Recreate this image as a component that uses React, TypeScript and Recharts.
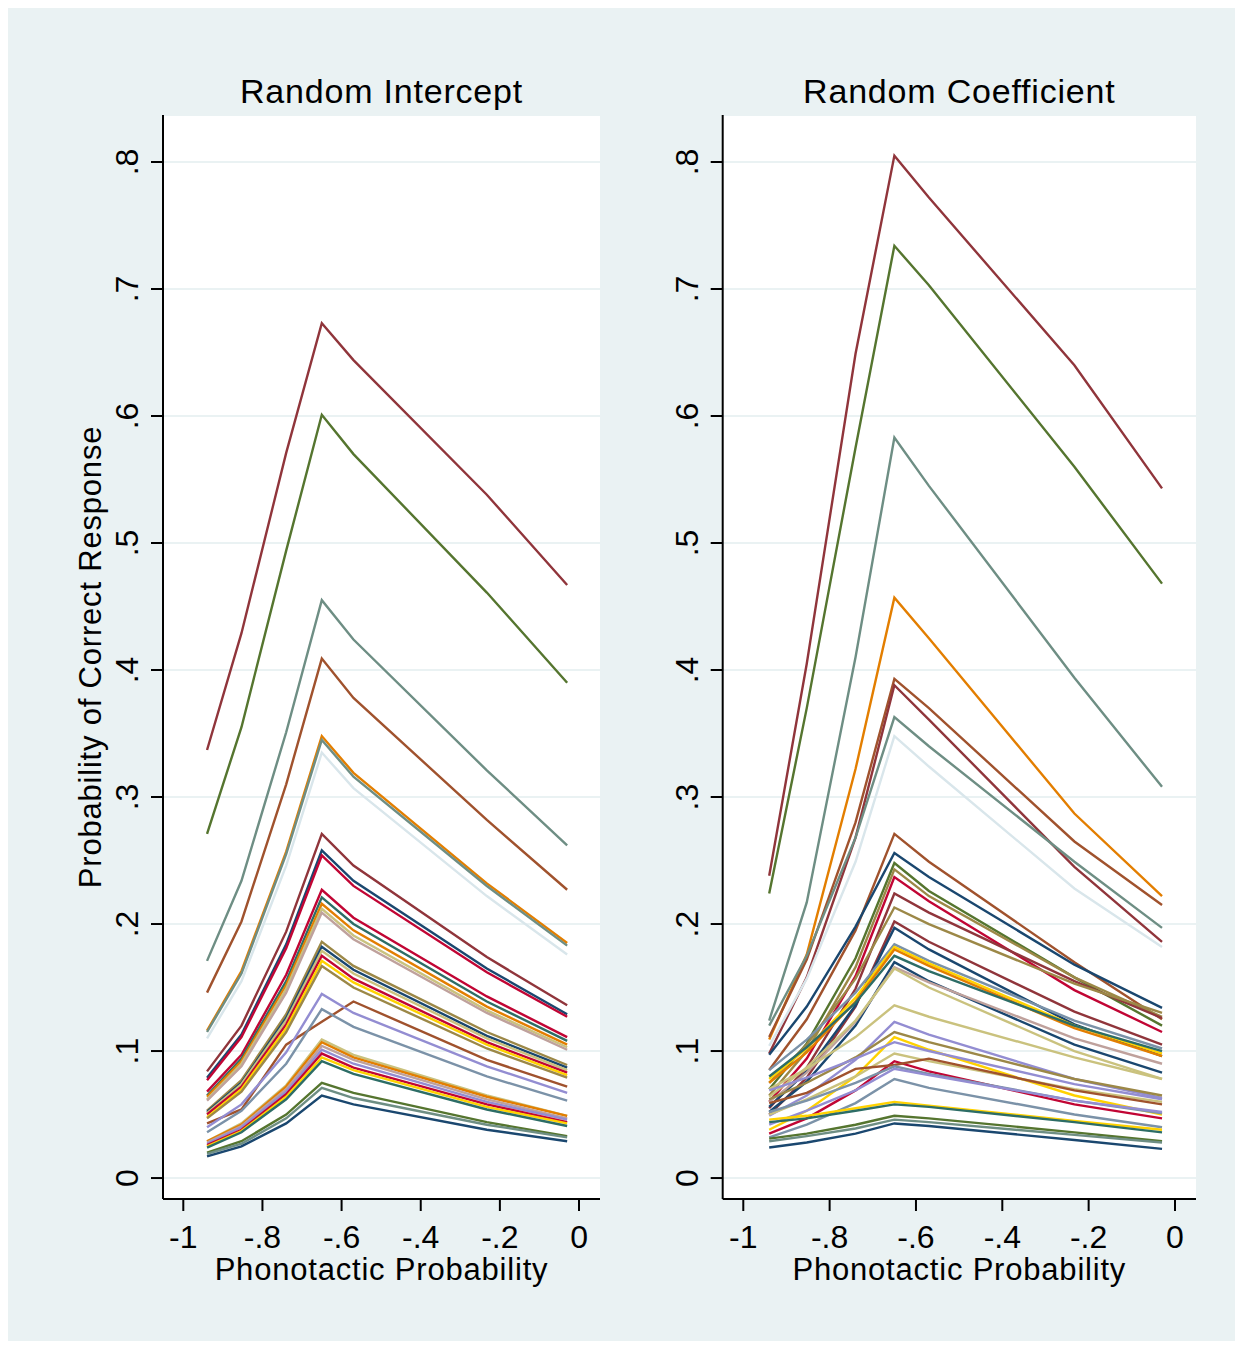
import React from "react";
import { LineChart, Line, XAxis, YAxis, CartesianGrid } from "recharts";

// phonotactic probability values where predictions were taken
const xPoints = [-0.94, -0.853, -0.74, -0.65, -0.57, -0.233, -0.03];
const xTicks = [-1, -0.8, -0.6, -0.4, -0.2, 0];
const yTicks = [0, 0.1, 0.2, 0.3, 0.4, 0.5, 0.6, 0.7, 0.8];

// predicted probability per subject, random intercept model
const interceptLines = [
  [0.337, 0.429, 0.571, 0.673, 0.644, 0.538, 0.467],
  [0.271, 0.355, 0.494, 0.601, 0.57, 0.461, 0.39],
  [0.171, 0.234, 0.351, 0.455, 0.424, 0.321, 0.262],
  [0.146, 0.202, 0.31, 0.409, 0.378, 0.282, 0.227],
  [0.116, 0.163, 0.257, 0.348, 0.319, 0.232, 0.185],
  [0.115, 0.161, 0.255, 0.345, 0.316, 0.23, 0.183],
  [0.11, 0.155, 0.246, 0.335, 0.307, 0.222, 0.176],
  [0.084, 0.12, 0.194, 0.271, 0.246, 0.174, 0.136],
  [0.079, 0.113, 0.184, 0.258, 0.234, 0.165, 0.129],
  [0.077, 0.111, 0.181, 0.254, 0.23, 0.162, 0.127],
  [0.068, 0.097, 0.16, 0.227, 0.205, 0.143, 0.111],
  [0.065, 0.094, 0.155, 0.221, 0.2, 0.139, 0.108],
  [0.064, 0.092, 0.152, 0.216, 0.195, 0.135, 0.105],
  [0.062, 0.09, 0.149, 0.212, 0.191, 0.132, 0.103],
  [0.061, 0.088, 0.146, 0.209, 0.188, 0.13, 0.101],
  [0.053, 0.077, 0.129, 0.186, 0.167, 0.115, 0.089],
  [0.052, 0.075, 0.126, 0.182, 0.164, 0.112, 0.087],
  [0.051, 0.074, 0.124, 0.179, 0.161, 0.11, 0.085],
  [0.05, 0.072, 0.121, 0.175, 0.157, 0.107, 0.083],
  [0.048, 0.07, 0.118, 0.171, 0.154, 0.105, 0.081],
  [0.047, 0.068, 0.115, 0.167, 0.15, 0.102, 0.079],
  [0.043, 0.054, 0.105, 0.123, 0.139, 0.093, 0.072],
  [0.04, 0.058, 0.099, 0.145, 0.13, 0.088, 0.067],
  [0.036, 0.053, 0.09, 0.133, 0.119, 0.08, 0.061],
  [0.029, 0.043, 0.073, 0.109, 0.097, 0.065, 0.049],
  [0.029, 0.042, 0.072, 0.107, 0.095, 0.064, 0.049],
  [0.028, 0.041, 0.07, 0.104, 0.093, 0.062, 0.047],
  [0.027, 0.04, 0.068, 0.101, 0.09, 0.06, 0.046],
  [0.026, 0.038, 0.066, 0.098, 0.087, 0.058, 0.044],
  [0.025, 0.037, 0.064, 0.095, 0.085, 0.056, 0.043],
  [0.024, 0.036, 0.062, 0.092, 0.082, 0.054, 0.041],
  [0.02, 0.029, 0.05, 0.075, 0.067, 0.044, 0.033],
  [0.019, 0.027, 0.047, 0.071, 0.063, 0.042, 0.032],
  [0.017, 0.025, 0.043, 0.065, 0.058, 0.038, 0.029],
];

// predicted probability per subject, random coefficient model
const coefficientLines = [
  [0.238, 0.405, 0.649, 0.805, 0.772, 0.64, 0.543],
  [0.224, 0.37, 0.575, 0.734, 0.703, 0.56, 0.468],
  [0.124, 0.217, 0.41, 0.583, 0.545, 0.394, 0.308],
  [0.109, 0.176, 0.322, 0.457, 0.425, 0.287, 0.222],
  [0.111, 0.172, 0.28, 0.393, 0.37, 0.265, 0.215],
  [0.098, 0.158, 0.268, 0.388, 0.361, 0.245, 0.186],
  [0.12, 0.175, 0.268, 0.363, 0.34, 0.249, 0.197],
  [0.104, 0.157, 0.249, 0.348, 0.324, 0.228, 0.182],
  [0.085, 0.125, 0.195, 0.271, 0.249, 0.17, 0.125],
  [0.097, 0.135, 0.198, 0.256, 0.237, 0.168, 0.134],
  [0.07, 0.106, 0.173, 0.248, 0.226, 0.158, 0.12],
  [0.065, 0.1, 0.166, 0.243, 0.222, 0.158, 0.127],
  [0.06, 0.094, 0.159, 0.237, 0.218, 0.148, 0.115],
  [0.055, 0.087, 0.149, 0.224, 0.209, 0.155, 0.126],
  [0.075, 0.105, 0.157, 0.213, 0.2, 0.153, 0.13],
  [0.05, 0.079, 0.135, 0.202, 0.186, 0.131, 0.105],
  [0.056, 0.084, 0.136, 0.197, 0.18, 0.121, 0.096],
  [0.085, 0.109, 0.146, 0.184, 0.171, 0.124, 0.102],
  [0.078, 0.102, 0.142, 0.182, 0.169, 0.12, 0.098],
  [0.075, 0.099, 0.139, 0.18, 0.167, 0.118, 0.096],
  [0.08, 0.103, 0.138, 0.175, 0.163, 0.12, 0.1],
  [0.052, 0.076, 0.12, 0.17, 0.155, 0.105, 0.083],
  [0.06, 0.083, 0.123, 0.166, 0.154, 0.11, 0.09],
  [0.064, 0.087, 0.124, 0.165, 0.15, 0.1, 0.078],
  [0.07, 0.086, 0.111, 0.136, 0.127, 0.095, 0.078],
  [0.049, 0.065, 0.093, 0.123, 0.113, 0.078, 0.063],
  [0.062, 0.075, 0.095, 0.115, 0.107, 0.078, 0.065],
  [0.038, 0.053, 0.08, 0.111, 0.101, 0.065, 0.05],
  [0.069, 0.079, 0.094, 0.107, 0.1, 0.074, 0.062],
  [0.05, 0.062, 0.08, 0.098, 0.092, 0.07, 0.06],
  [0.035, 0.047, 0.069, 0.092, 0.084, 0.058, 0.047],
  [0.059, 0.067, 0.086, 0.089, 0.094, 0.069, 0.058],
  [0.052, 0.061, 0.075, 0.088, 0.082, 0.061, 0.051],
  [0.042, 0.053, 0.069, 0.086, 0.081, 0.061, 0.052],
  [0.032, 0.042, 0.059, 0.078, 0.071, 0.05, 0.04],
  [0.046, 0.049, 0.055, 0.06, 0.057, 0.045, 0.038],
  [0.044, 0.047, 0.053, 0.058, 0.056, 0.044, 0.036],
  [0.031, 0.035, 0.042, 0.049, 0.047, 0.036, 0.029],
  [0.029, 0.033, 0.039, 0.046, 0.044, 0.034, 0.028],
  [0.024, 0.028, 0.035, 0.043, 0.041, 0.03, 0.023],
];

// stata s2color palette
const PALETTE: Record<string, string> = {
  navy: "#1a476f",
  maroon: "#90353b",
  forest: "#55752f",
  dkorange: "#e37e00",
  teal: "#6e8e84",
  cranberry: "#c10534",
  lavender: "#938dd2",
  khaki: "#cac27e",
  sienna: "#a0522d",
  emidblue: "#7b92a8",
  emerald: "#2d6d66",
  brown: "#9c8847",
  erose: "#bfa19c",
  gold: "#ffd200",
  bluishgray: "#d9e6eb",
};

const interceptColors = [
  "maroon", "forest", "teal", "sienna", "dkorange", "teal", "bluishgray",
  "maroon", "navy", "cranberry", "cranberry", "emerald", "dkorange", "khaki",
  "erose", "brown", "navy", "khaki", "cranberry", "gold", "brown", "sienna",
  "lavender", "emidblue", "khaki", "dkorange", "erose", "lavender", "cranberry",
  "gold", "emerald", "forest", "teal", "navy",
];

const coefficientColors = [
  "maroon", "forest", "teal", "dkorange", "sienna", "maroon", "teal", "bluishgray",
  "sienna", "navy", "forest", "brown", "cranberry", "maroon", "brown", "maroon",
  "navy", "emidblue", "gold", "dkorange", "emerald", "navy", "erose", "khaki",
  "khaki", "lavender", "brown", "gold", "lavender", "khaki", "cranberry", "sienna",
  "emidblue", "lavender", "emidblue", "gold", "emerald", "forest", "teal", "navy",
];

const FONT = "'Liberation Sans', Arial, Helvetica, sans-serif";
const BG = "#eaf2f3";
const Y_DOMAIN: [number, number] = [-0.0165, 0.837];

function fmt(v: number) {
  if (v === 0) return "0";
  return String(v).replace("0.", ".");
}

function XTick(props: any) {
  const { x, y, payload } = props;
  return (
    <text x={x} y={y + 37} textAnchor="middle" fontSize={32} fill="#000" fontFamily={FONT}>
      {fmt(payload.value)}
    </text>
  );
}

function YTick(props: any) {
  const { x, y, payload } = props;
  const bx = x - 13;
  return (
    <text
      x={bx}
      y={y}
      transform={`rotate(-90 ${bx} ${y})`}
      textAnchor="middle"
      fontSize={32}
      fill="#000"
      fontFamily={FONT}
    >
      {fmt(payload.value)}
    </text>
  );
}

interface PanelProps {
  lines: number[][];
  colors: string[];
  xDomain: [number, number];
  width: number;
  left: number;
  margin: { top: number; right: number; bottom: number; left: number };
}

function Panel({ lines, colors, xDomain, width, left, margin }: PanelProps) {
  const rows = xPoints.map(function (x, i) {
    const row: Record<string, number> = { x };
    lines.forEach(function (vals, j) {
      row["s" + j] = vals[i];
    });
    return row;
  });

  return (
    <div style={{ position: "absolute", left, top: 0 }}>
      <LineChart width={width} height={1333} data={rows} margin={margin}>
        <CartesianGrid vertical={false} stroke={BG} strokeWidth={2} fill="#ffffff" fillOpacity={1} />
        <XAxis
          dataKey="x"
          type="number"
          domain={xDomain}
          ticks={xTicks}
          interval={0}
          height={100}
          tickSize={12}
          tickMargin={0}
          axisLine={{ stroke: "#000", strokeWidth: 2 }}
          tickLine={{ stroke: "#000", strokeWidth: 2 }}
          tick={(p: any) => <XTick {...p} />}
        />
        <YAxis
          type="number"
          domain={Y_DOMAIN}
          ticks={yTicks}
          interval={0}
          width={80}
          tickSize={12}
          tickMargin={0}
          axisLine={{ stroke: "#000", strokeWidth: 2 }}
          tickLine={{ stroke: "#000", strokeWidth: 2 }}
          tick={(p: any) => <YTick {...p} />}
        />
        {lines.map(function (_vals, j) {
          return (
            <Line
              key={j}
              type="linear"
              dataKey={"s" + j}
              stroke={PALETTE[colors[j]]}
              strokeWidth={2.4}
              dot={false}
              isAnimationActive={false}
            />
          );
        })}
      </LineChart>
    </div>
  );
}

export default function App() {
  return (
    <div style={{ position: "relative", width: 1227, height: 1333, background: BG, fontFamily: FONT }}>
      {/* Random Intercept */}
      <Panel
        lines={interceptLines}
        colors={interceptColors}
        xDomain={[-1.0513, 0.053]}
        width={614}
        left={0}
        margin={{ top: 107, right: 22, bottom: 42, left: 75 }}
      />

      {/* Random Coefficient */}
      <Panel
        lines={coefficientLines}
        colors={coefficientColors}
        xDomain={[-1.0477, 0.0487]}
        width={613}
        left={614}
        margin={{ top: 107, right: 39, bottom: 42, left: 20.7 }}
      />

      <svg
        width={1227}
        height={1333}
        style={{ position: "absolute", left: 0, top: 0, pointerEvents: "none" }}
      >
        <g fontFamily={FONT} fill="#000">
          <text x={373.5} y={95} textAnchor="middle" fontSize={34} letterSpacing={0.8}>
            Random Intercept
          </text>
          <text x={951.3} y={95} textAnchor="middle" fontSize={34} letterSpacing={0.8}>
            Random Coefficient
          </text>
          <text x={373.5} y={1272} textAnchor="middle" fontSize={31} letterSpacing={0.8}>
            Phonotactic Probability
          </text>
          <text x={951.3} y={1272} textAnchor="middle" fontSize={31} letterSpacing={0.8}>
            Phonotactic Probability
          </text>
          <text
            x={93}
            y={649}
            transform="rotate(-90 93 649)"
            textAnchor="middle"
            fontSize={31}
            letterSpacing={0.8}
          >
            Probability of Correct Response
          </text>
        </g>
      </svg>
    </div>
  );
}
